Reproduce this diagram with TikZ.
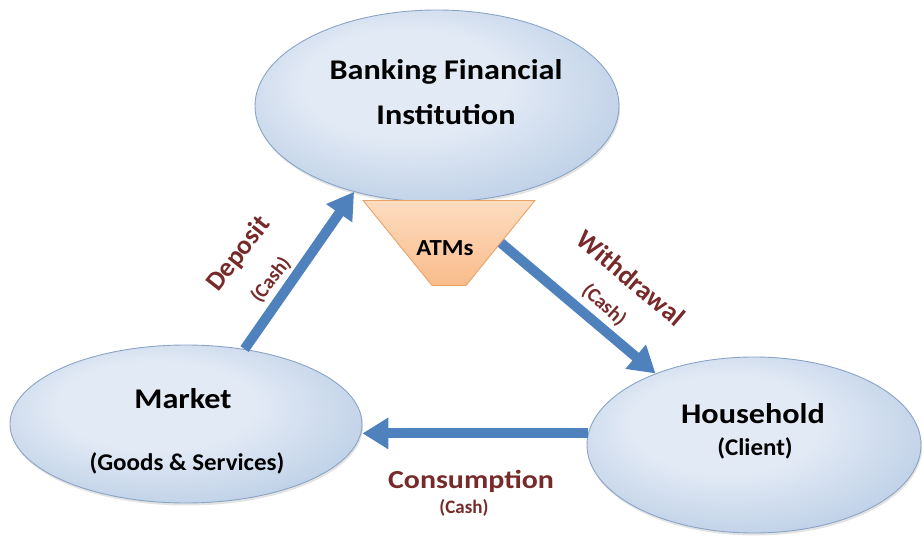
\documentclass[tikz,border=0pt]{standalone}
\usepackage{fontspec}
\usepackage{graphicx}
\setmainfont{Carlito}
\usetikzlibrary{shapes.geometric,arrows.meta,shadows}

\definecolor{flowblue}{HTML}{4F81BD}
\definecolor{ellipseedge}{HTML}{8AA4C6}
\definecolor{ellipselight}{HTML}{E2EAF5}
\definecolor{ellipsedark}{HTML}{97B3D8}
\definecolor{labelred}{HTML}{772A2A}
\definecolor{atmtop}{HTML}{FDDCC0}
\definecolor{atmbottom}{HTML}{F9BC8B}
\definecolor{atmedge}{HTML}{EBA266}

% soft highlight slightly up and left of the centre
\pgfdeclareradialshading{blobshade}{\pgfpoint{-6bp}{8bp}}{%
  color(0bp)=(ellipselight); color(14bp)=(ellipselight);
  color(38bp)=(ellipsedark!70!ellipselight); color(50bp)=(ellipsedark)}

% horizontally widened text
\newcommand\widen[2]{\scalebox{#1}[1]{#2}}

\begin{document}
\begin{tikzpicture}[x=1pt,y=-1pt,
  blob/.style={ellipse, draw=ellipseedge, line width=0.9pt, shading=blobshade,
    drop shadow={opacity=0.22, shadow xshift=1pt, shadow yshift=-2.5pt}},
  atmbox/.style={trapezium, trapezium stretches=true, shape border rotate=180,
    trapezium left angle=63, trapezium right angle=63,
    minimum width=172pt, minimum height=85pt, inner sep=2pt,
    top color=atmtop, bottom color=atmbottom, draw=atmedge, line width=0.9pt},
  flow/.style={draw=flowblue, line width=10pt,
    -{Triangle[length=26pt, width=30pt]}},
  title/.style={font=\bfseries\fontsize{28.5}{30}\selectfont, text=black, inner sep=0pt, anchor=base},
  subtitle/.style={font=\bfseries\fontsize{24}{26}\selectfont, text=black, inner sep=0pt, anchor=base},
  flowlabel/.style={font=\bfseries\fontsize{27}{29}\selectfont, text=labelred, inner sep=0pt},
  cashlabel/.style={font=\bfseries\fontsize{20}{23}\selectfont, text=labelred, inner sep=0pt},
]
\useasboundingbox (0,0) rectangle (923,537);

% the three actors
\node[blob, minimum width=364pt, minimum height=192pt] (bank) at (437,106) {};
\node[blob, minimum width=352pt, minimum height=158pt] (market) at (186,424) {};
\node[blob, minimum width=334pt, minimum height=176pt] (house) at (754,445) {};

% the ATM channel
\node[atmbox] (atm) at (449,243) {\strut};

% texts inside the shapes
\node[title] (banka) at (446,80) {\widen{1.13}{Banking Financial}};
\node[title] (bankb) at (446,125) {\widen{1.13}{Institution}};
\node[title] (marketa) at (183,408) {\widen{1.13}{Market}};
\node[subtitle] (marketb) at (187,470) {\widen{1.04}{(Goods \& Services)}};
\node[title] (housea) at (753,423) {\widen{1.13}{Household}};
\node[subtitle] (houseb) at (755,455) {\widen{1.04}{(Client)}};
\node[subtitle, font=\bfseries\fontsize{23}{25}\selectfont] (atmtext) at (445,255) {\widen{1.08}{ATMs}};

% cash flows
\draw[flow] (market.52) -- (bank.226);
\draw[flow] (atm.east) -- (house.144);
\draw[flow] (house.176) -- (house.176 -| market.east);

% flow labels
\node[flowlabel, rotate=52] (deplabel) at (239,254) {Deposit};
\node[cashlabel, rotate=52] (depcash) at (271,280) {(Cash)};
\node[flowlabel, rotate=-40] (wdlabel) at (631,278) {Withdrawal};
\node[cashlabel, rotate=-42] (wdcash) at (604,305) {(Cash)};
\node[flowlabel, anchor=base, font=\bfseries\fontsize{26}{28}\selectfont] (conlabel) at (471,488) {\widen{1.15}{Consumption}};
\node[cashlabel, anchor=base, font=\bfseries\fontsize{19}{21}\selectfont] (concash) at (464,513) {(Cash)};
\end{tikzpicture}
\end{document}
